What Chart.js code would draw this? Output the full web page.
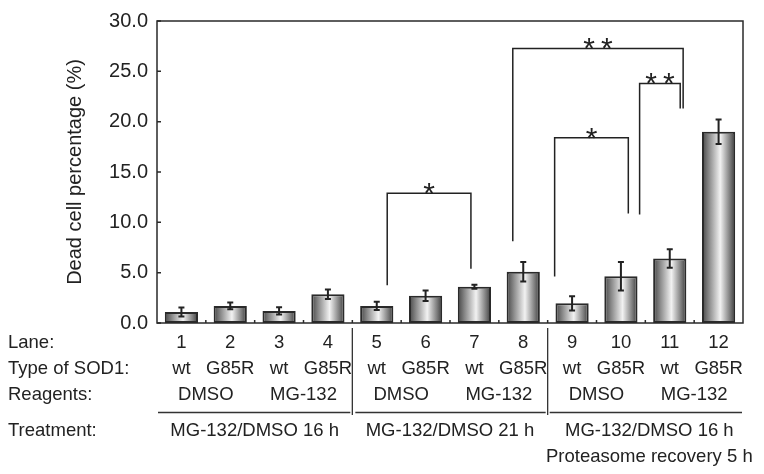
<!DOCTYPE html>
<html>
<head>
<meta charset="utf-8">
<script src="https://cdn.jsdelivr.net/npm/chart.js@4.4.1/dist/chart.umd.min.js"></script>
<style>
  html, body { margin: 0; padding: 0; background: #fff; }
  #wrap { width: 764px; height: 474px; }
</style>
</head>
<body>
<div id="wrap"><canvas id="deadCells" width="764" height="474"></canvas></div>
<script>
// values
const lanes = ['1', '2', '3', '4', '5', '6', '7', '8', '9', '10', '11', '12'];
const sodTypes = ['wt', 'G85R', 'wt', 'G85R', 'wt', 'G85R', 'wt', 'G85R', 'wt', 'G85R', 'wt', 'G85R'];
const deadPct = [1.1, 1.7, 1.2, 2.85, 1.7, 2.7, 3.6, 5.1, 1.95, 4.65, 6.4, 19.0];
const errPct = [0.45, 0.33, 0.36, 0.47, 0.42, 0.52, 0.2, 0.97, 0.7, 1.42, 0.92, 1.21];
const reagents = ['DMSO', 'MG-132', 'DMSO', 'MG-132', 'DMSO', 'MG-132'];
const treatments = ['MG-132/DMSO 16 h', 'MG-132/DMSO 21 h', 'MG-132/DMSO 16 h'];
const treatmentNote = 'Proteasome recovery 5 h';
const yTicks = [0, 5, 10, 15, 20, 25, 30];

// significance brackets (x in lane index units, y in %)
const bracket57 = [{x: 4, y: 3.76}, {x: 4, y: 12.88}, {x: 6, y: 12.88}, {x: 6, y: 5.38}];
const bracket911 = [{x: 8, y: 4.63}, {x: 8, y: 18.39}, {x: 9.76, y: 18.39}, {x: 9.76, y: 10.87}];
const bracket812 = [{x: 7, y: 8.13}, {x: 7, y: 27.28}, {x: 11.07, y: 27.28}, {x: 11.07, y: 21.3}];
const bracket1112 = [{x: 10.03, y: 10.78}, {x: 10.03, y: 23.8}, {x: 11.0, y: 23.8}, {x: 11.0, y: 21.3}];
const brackets = [bracket57, bracket911, bracket812, bracket1112];
const stars = ['*', '*', '**', '**'];

const FONT = '"Liberation Sans", Arial, Helvetica, sans-serif';
const INK = '#222';

function barFill(c) {
  const ch = c.chart;
  const xs = ch.scales.x;
  if (!xs || !ch.chartArea) return '#999';
  const cx = xs.getPixelForValue(c.dataIndex);
  const w = xs.width / lanes.length * 0.68;
  const g = ch.ctx.createLinearGradient(cx - w / 2, 0, cx + w / 2, 0);
  g.addColorStop(0, '#454545');
  g.addColorStop(0.22, '#8c8c8c');
  g.addColorStop(0.55, '#f2f2f2');
  g.addColorStop(0.85, '#7a7a7a');
  g.addColorStop(1, '#3a3a3a');
  return g;
}

const extras = {
  id: 'extras',
  afterDatasetsDraw(chart) {
    const ctx = chart.ctx, xs = chart.scales.x, ys = chart.scales.y;
    ctx.save();
    ctx.strokeStyle = INK;
    ctx.lineWidth = 2;
    deadPct.forEach((v, i) => {
      const x = xs.getPixelForValue(i);
      const t = ys.getPixelForValue(v + errPct[i]);
      const b = ys.getPixelForValue(v - errPct[i]);
      ctx.beginPath();
      ctx.moveTo(x, t); ctx.lineTo(x, b);
      ctx.moveTo(x - 3, t); ctx.lineTo(x + 3, t);
      ctx.moveTo(x - 3, b); ctx.lineTo(x + 3, b);
      ctx.stroke();
    });
    // stars
    const xb = chart.scales.xb;
    ctx.fillStyle = INK;
    ctx.font = '30px ' + FONT;
    ctx.textAlign = 'center';
    ctx.textBaseline = 'alphabetic';
    brackets.forEach((br, k) => {
      const mx = (xb.getPixelForValue(br[1].x) + xb.getPixelForValue(br[2].x)) / 2;
      const my = ys.getPixelForValue(br[1].y);
      ctx.fillText(stars[k].split('').join('\u2009'), mx, my + 10);
    });
    ctx.restore();
  },
  afterDraw(chart) {
    const ctx = chart.ctx, xs = chart.scales.x, ys = chart.scales.y;
    const a = chart.chartArea;
    ctx.save();
    ctx.strokeStyle = '#2a2a2a';
    ctx.lineWidth = 1.5;
    ctx.strokeRect(a.left, a.top, a.right - a.left, a.bottom - a.top);
    // inward ticks
    ctx.beginPath();
    yTicks.forEach(t => {
      const y = ys.getPixelForValue(t);
      ctx.moveTo(a.left, y); ctx.lineTo(a.left + 4, y);
    });
    const step = xs.width / lanes.length;
    for (let i = 1; i < lanes.length; i++) {
      const x = a.left + i * step;
      ctx.moveTo(x, a.bottom); ctx.lineTo(x, a.bottom - 3);
    }
    ctx.stroke();

    // table under the axis
    ctx.fillStyle = INK;
    ctx.font = '18.5px ' + FONT;
    ctx.textBaseline = 'alphabetic';
    ctx.textAlign = 'left';
    ctx.fillText('Lane:', 8, 348);
    ctx.fillText('Type of SOD1:', 8, 374);
    ctx.fillText('Reagents:', 8, 399.5);
    ctx.fillText('Treatment:', 8, 436);
    ctx.textAlign = 'center';
    lanes.forEach((l, i) => {
      const x = xs.getPixelForValue(i);
      ctx.fillText(l, x, 348);
      ctx.fillText(sodTypes[i], x, 374);
    });
    reagents.forEach((r, k) => {
      const x = (xs.getPixelForValue(2 * k) + xs.getPixelForValue(2 * k + 1)) / 2;
      ctx.fillText(r, x, 399.5);
    });
    treatments.forEach((t, k) => {
      const x = a.left + (4 * k + 2) * step + (k === 2 ? 4 : 0);
      ctx.fillText(t, x, 436);
    });
    ctx.fillText(treatmentNote, a.left + 10 * step + 4, 462);

    ctx.strokeStyle = '#333';
    ctx.lineWidth = 1.3;
    ctx.beginPath();
    const s1 = a.left + 4 * step, s2 = a.left + 8 * step;
    [s1, s2].forEach(x => { ctx.moveTo(x, 328); ctx.lineTo(x, 415); });
    ctx.moveTo(a.left + 1, 412.5); ctx.lineTo(s1 - 2, 412.5);
    ctx.moveTo(s1 + 3, 412.5); ctx.lineTo(s2 - 2, 412.5);
    ctx.moveTo(s2 + 2, 412.5); ctx.lineTo(a.right - 1, 412.5);
    ctx.stroke();
    ctx.restore();
  }
};

const bracketSets = brackets.map(br => ({
  type: 'line',
  data: br,
  xAxisID: 'xb',
  yAxisID: 'y',
  borderColor: INK,
  borderWidth: 1.5,
  pointRadius: 0,
  fill: false,
  tension: 0
}));

new Chart(document.getElementById('deadCells'), {
  type: 'bar',
  data: {
    labels: lanes,
    datasets: [{
      label: 'Dead cell percentage',
      data: deadPct,
      xAxisID: 'x',
      yAxisID: 'y',
      grouped: false,
      backgroundColor: barFill,
      borderColor: '#2a2a2a',
      borderWidth: 2,
      borderSkipped: false,
      barPercentage: 0.68,
      categoryPercentage: 1.0
    }].concat(bracketSets)
  },
  options: {
    responsive: false,
    animation: false,
    layout: { padding: { top: 14, right: 21, left: 0, bottom: 0 } },
    plugins: { legend: { display: false }, tooltip: { enabled: false } },
    scales: {
      x: {
        type: 'category',
        ticks: { display: false },
        grid: { display: false },
        border: { display: false },
        afterFit: s => { s.height = 151; }
      },
      xb: {
        type: 'linear',
        display: false,
        min: -0.5,
        max: 11.5
      },
      y: {
        min: 0,
        max: 30,
        afterFit: s => { s.width = 157; },
        afterBuildTicks: s => { s.ticks = yTicks.map(v => ({ value: v })); },
        ticks: {
          padding: 9,
          color: INK,
          font: { family: FONT, size: 20 },
          callback: v => v.toFixed(1)
        },
        grid: { display: false, drawTicks: false },
        border: { display: false },
        title: {
          display: true,
          text: 'Dead cell percentage (%)',
          color: INK,
          font: { family: FONT, size: 20 },
          padding: { top: 63, bottom: 0 }
        }
      }
    }
  },
  plugins: [extras]
});
</script>
</body>
</html>
